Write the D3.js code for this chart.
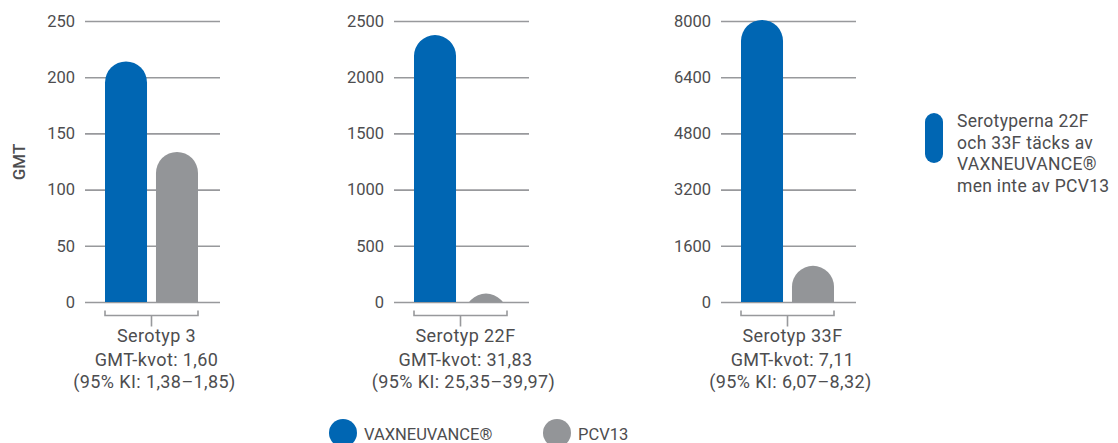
<!DOCTYPE html>
<html>
<head>
<meta charset="utf-8">
<script src="https://cdn.jsdelivr.net/npm/d3@7"></script>
<style>
  body { margin: 0; background: #fff; }
  svg { font-family: Roboto, "Open Sans", sans-serif; }
</style>
</head>
<body>
<svg width="1118" height="443"></svg>
<script>
// data
const series = ["VAXNEUVANCE", "PCV13"];
const serotypes = ["Serotyp 3", "Serotyp 22F", "Serotyp 33F"];
const vaxValues = [214, 2375, 8030];
const pcvValues = [133.5, 75, 1030];
const axisMax = [250, 2500, 8000];
const tickValues = [
  [0, 50, 100, 150, 200, 250],
  [0, 500, 1000, 1500, 2000, 2500],
  [0, 1600, 3200, 4800, 6400, 8000]
];
const ratioLabels = ["GMT-kvot: 1,60", "GMT-kvot: 31,83", "GMT-kvot: 7,11"];
const ciLabels = ["(95% KI: 1,38–1,85)", "(95% KI: 25,35–39,97)", "(95% KI: 6,07–8,32)"];
const noteLines = ["Serotyperna 22F", "och 33F täcks av", "VAXNEUVANCE®", "men inte av PCV13"];

const colors = { VAXNEUVANCE: "#0066b3", PCV13: "#939598" };
const textColor = "#4d4d4f";

const svg = d3.select("svg");

// layout
const panelLeft = [85, 394, 721];
const panelWidth = 135;
const plotTop = 21, plotBottom = 302;

serotypes.forEach(function (name, i) {
  const g = svg.append("g").attr("class", "panel");
  const x0 = panelLeft[i];

  const y = d3.scaleLinear().domain([0, axisMax[i]]).range([plotBottom, plotTop]);
  const x = d3.scaleBand()
    .domain(series)
    .range([x0 + 20, x0 + 20 + 93])
    .paddingInner(0.176);

  // gridlines + tick labels
  const axis = d3.axisLeft(y)
    .tickValues(tickValues[i])
    .tickSize(-panelWidth)
    .tickPadding(10)
    .tickFormat(d3.format("d"));
  const ax = g.append("g")
    .attr("transform", "translate(" + x0 + ",0)")
    .call(axis);
  ax.select(".domain").remove();
  ax.selectAll(".tick line").attr("stroke", "#98999c").attr("stroke-width", 1.6);
  ax.selectAll(".tick text")
    .attr("fill", textColor)
    .style("font-size", "16.5px")
    .style("font-family", "Roboto, sans-serif");

  // clip so rounded caps stay above the baseline
  g.append("clipPath").attr("id", "clip" + i)
    .append("rect")
    .attr("x", x0).attr("y", 0)
    .attr("width", panelWidth).attr("height", y(0));

  const vals = [vaxValues[i], pcvValues[i]];
  g.append("g")
    .attr("clip-path", "url(#clip" + i + ")")
    .selectAll("path")
    .data(series.map(function (s, k) { return { key: s, value: vals[k] }; }))
    .enter()
    .append("path")
    .attr("d", function (d) {
      const xa = x(d.key), xb = xa + x.bandwidth();
      const r = x.bandwidth() / 2;
      const yt = y(d.value);
      const base = y(0) + 30;
      return "M" + xa + "," + base +
        "L" + xa + "," + (yt + r) +
        "A" + r + "," + r + " 0 0 1 " + xb + "," + (yt + r) +
        "L" + xb + "," + base + "Z";
    })
    .attr("fill", function (d) { return colors[d.key]; });

  // bracket under the pair of bars
  const bx0 = x(series[0]), bx1 = x(series[1]) + x.bandwidth();
  const by = 315.5, cx = (bx0 + bx1) / 2;
  g.append("path")
    .attr("d", "M" + bx0 + "," + (by - 5) + "V" + by + "H" + bx1 + "V" + (by - 5) +
      "M" + cx + "," + by + "V" + (by + 11))
    .attr("fill", "none")
    .attr("stroke", "#98999c")
    .attr("stroke-width", 1.6);

  // category + ratio labels (sit a little right of the bracket tick)
  const lab = g.append("text")
    .attr("text-anchor", "middle")
    .attr("fill", textColor)
    .style("font-size", "18px")
    .style("letter-spacing", "0.4px");
  lab.append("tspan").attr("x", cx + 5).attr("y", 342).text(name);
  lab.append("tspan").attr("x", cx + 5).attr("y", 366).text(ratioLabels[i]);
  lab.append("tspan").attr("x", cx + 3).attr("y", 388).text(ciLabels[i]);
});

// y axis title
svg.append("text")
  .attr("transform", "translate(25,162) rotate(-90)")
  .attr("text-anchor", "middle")
  .attr("fill", textColor)
  .style("font-size", "17px")
  .style("font-weight", 500)
  .text("GMT");

// side note with pill
svg.append("rect")
  .attr("x", 925).attr("y", 113)
  .attr("width", 18).attr("height", 50)
  .attr("rx", 9)
  .attr("fill", colors.VAXNEUVANCE);

svg.append("g").selectAll("text")
  .data(noteLines)
  .enter()
  .append("text")
  .attr("x", 957)
  .attr("y", function (d, i) { return 127 + i * 21.5; })
  .attr("fill", textColor)
  .style("font-size", "17.5px")
  .style("letter-spacing", "0.3px")
  .text(function (d) { return d; });

// bottom legend
const legendX = [343, 557];
const legendLabels = ["VAXNEUVANCE®", "PCV13"];
const legend = svg.append("g").selectAll("g")
  .data(series)
  .enter()
  .append("g");
legend.append("circle")
  .attr("cx", function (d, i) { return legendX[i]; })
  .attr("cy", 433)
  .attr("r", 14)
  .attr("fill", function (d) { return colors[d]; });
legend.append("text")
  .attr("x", function (d, i) { return legendX[i] + 21; })
  .attr("y", 440)
  .attr("fill", textColor)
  .style("font-size", "16.5px")
  .text(function (d, i) { return legendLabels[i]; });
</script>
</body>
</html>
